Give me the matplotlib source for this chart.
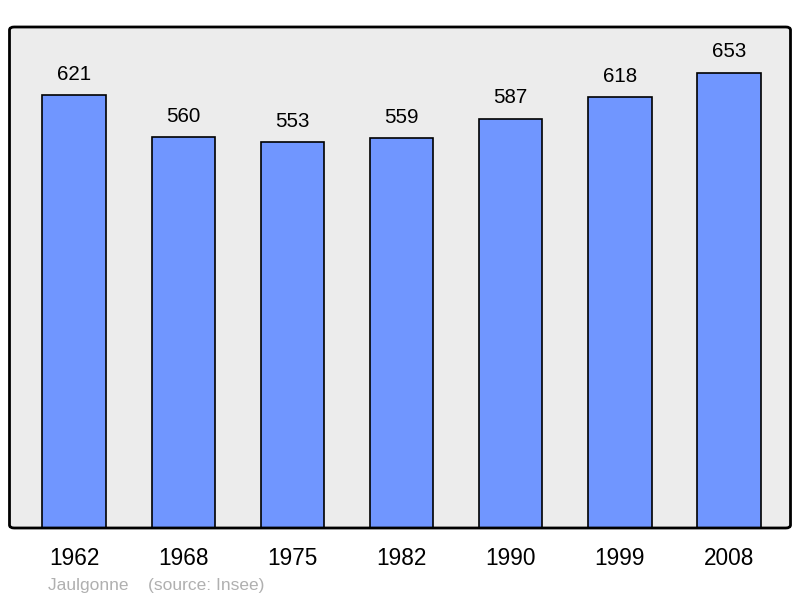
import matplotlib
matplotlib.use("Agg")
import matplotlib.pyplot as plt
from matplotlib.patches import FancyBboxPatch

years = ["1962", "1968", "1975", "1982", "1990", "1999", "2008"]
population = [621, 560, 553, 559, 587, 618, 653]
place = "Jaulgonne"
source = "(source: Insee)"

plt.rcParams['font.family'] = ['Liberation Sans', 'DejaVu Sans']

fig = plt.figure(figsize=(8, 5.98), dpi=100)
ax = fig.add_axes([9.5/800, 70/598, 781/800, 501/598])
ax.set_facecolor('#ececec')
x = list(range(len(years)))
bars = ax.bar(x, population, width=0.58, color='#7096ff', edgecolor='black', linewidth=1.2, zorder=2)
ax.set_xlim(-0.592, 6.563)
ax.set_ylim(0, max(population) * 1.1)
for xi, v in zip(x, population):
    ax.annotate(str(v), (xi, v), xytext=(0, 11), textcoords='offset points',
                ha='center', va='baseline', fontsize=14.8)
ax.set_xticks(x)
ax.set_xticklabels(years, fontsize=16.3)
ax.tick_params(axis='x', length=0, pad=14)
ax.set_yticks([])
for s in ax.spines.values():
    s.set_visible(False)
frame = FancyBboxPatch((0, 0), 1, 1, boxstyle="round,pad=0,rounding_size=0.006",
                       transform=ax.transAxes, facecolor='none', edgecolor='black',
                       linewidth=2, clip_on=False, zorder=5)
ax.add_patch(frame)
fig.text(48/800, 1 - 590/598, place + "    " + source, fontsize=12.5, color='#b0b0b0', va='baseline')
fig.savefig("out.png", dpi=100)
